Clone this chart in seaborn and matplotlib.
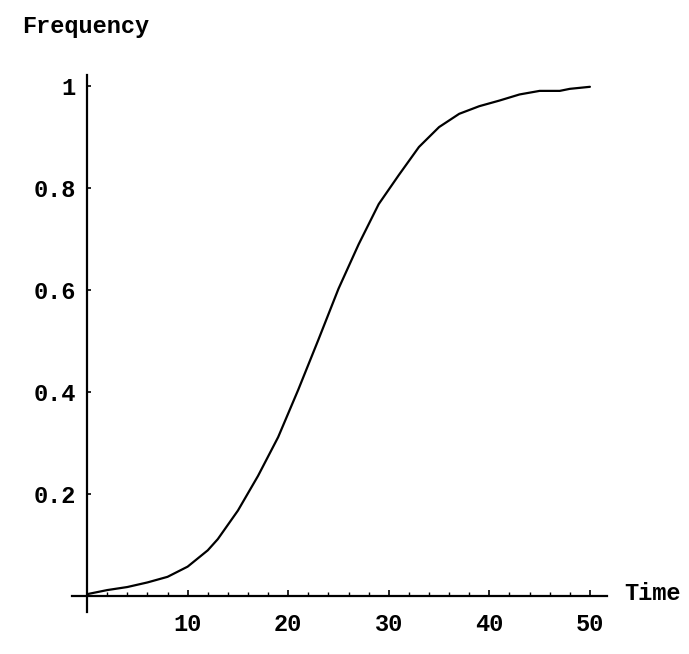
import numpy as np
import matplotlib
matplotlib.use("Agg")
import matplotlib.pyplot as plt
import seaborn as sns

# values
time = [0, 2, 4, 6, 8, 10, 12, 13, 15, 17, 19, 21, 23, 25, 27, 29, 31, 33,
        35, 37, 39, 41, 43, 45, 47, 48, 50]
frequency = [0.004, 0.012, 0.018, 0.027, 0.038, 0.058, 0.090, 0.112, 0.168,
             0.236, 0.312, 0.405, 0.503, 0.603, 0.690, 0.769, 0.826, 0.881,
             0.920, 0.946, 0.961, 0.972, 0.984, 0.991, 0.991, 0.995, 0.999]
x_ticks = [10, 20, 30, 40, 50]
y_ticks = [0.2, 0.4, 0.6, 0.8, 1.0]
y_tick_labels = ["0.2", "0.4", "0.6", "0.8", "1"]

sns.set_style("white")
plt.rcParams['font.family'] = ['Liberation Mono', 'DejaVu Sans Mono']
plt.rcParams['text.color'] = 'black'

fig = plt.figure(figsize=(6.89, 6.54), dpi=100)
ax = fig.add_axes([0.1045, 0.0642, 0.7765, 0.821])

sns.lineplot(x=time, y=frequency, color='black', linewidth=1.6, ax=ax)

ax.set_xlim(-1.5, 51.7)
ax.set_ylim(-0.031, 1.022)

# Mathematica-style axes crossing at the origin
ax.spines['top'].set_visible(False)
ax.spines['right'].set_visible(False)
ax.spines['left'].set_position(('data', 0))
ax.spines['bottom'].set_position(('data', 0))
for s in ['left', 'bottom']:
    ax.spines[s].set_linewidth(1.6)
    ax.spines[s].set_color('black')

ax.set_xticks(x_ticks)
ax.set_xticks(np.arange(2, 51, 2), minor=True)
ax.set_yticks(y_ticks)
ax.set_yticklabels(y_tick_labels)
ax.tick_params(axis='x', which='major', direction='in', length=4, width=1.2,
               pad=12, labelsize=17, colors='black')
ax.tick_params(axis='x', which='minor', direction='in', length=3, width=1.0,
               colors='black')
ax.tick_params(axis='y', which='major', direction='in', length=3, width=1.2,
               pad=8, labelsize=17, colors='black')
ax.tick_params(left=True, bottom=True, which='both')
for lbl in ax.get_xticklabels() + ax.get_yticklabels():
    lbl.set_fontweight('bold')

ax.text(1.032, 0.035, "Time", transform=ax.transAxes, ha='left', va='center',
        fontsize=17, fontweight='bold', clip_on=False)
fig.text(0.032, 0.959, "Frequency", ha='left', va='center', fontsize=17,
         fontweight='bold')

fig.savefig("out.png", dpi=100, facecolor='white')
